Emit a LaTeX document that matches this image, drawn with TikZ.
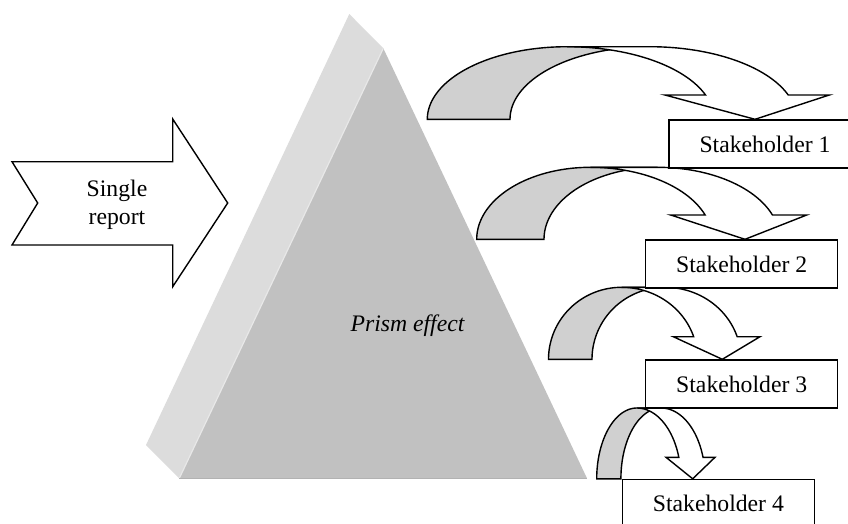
\documentclass[tikz,border=0pt]{standalone}
\usepackage{fontspec}
\setmainfont{Liberation Serif}
\definecolor{backface}{RGB}{220,220,220}
\definecolor{frontface}{RGB}{193,193,193}
\definecolor{edgehi}{RGB}{232,232,232}
\definecolor{edgelo}{RGB}{178,178,178}
\definecolor{bandgray}{RGB}{208,208,208}
\tikzset{
  outline/.style={draw=black,line width=1.4pt},
  shbox/.style={outline,fill=white,rectangle,minimum width=192pt,minimum height=48pt,
    inner sep=0pt,anchor=north west,font=\fontsize{23.7}{28}\selectfont},
  lbl/.style={font=\fontsize{23.7}{28}\selectfont,align=center,inner sep=0pt},
}
% curved down arrow drawn from the parameters \cvC \cvT \cvA \cvB \cvH \cvY \cvWY \cvWL \cvWR \cvTX
\newcommand\cvDrawArrow{%
  \pgfmathsetmacro\cvPhi{asin((\cvY-\cvWY)/\cvH)}%
  \filldraw[outline,fill=bandgray] (\cvC-\cvA,\cvY)
    -- plot[domain=180:90,samples=50] ({\cvC+\cvA*cos(\x)},{\cvY-\cvH*sin(\x)})
    -- plot[domain=90:180,samples=50] ({\cvC+\cvT+\cvA*cos(\x)},{\cvY-\cvH*sin(\x)})
    -- cycle;
  \filldraw[outline,fill=white] (\cvC,\cvY-\cvH)
    -- plot[domain=90:\cvPhi,samples=50] ({\cvC+\cvB*cos(\x)},{\cvY-\cvH*sin(\x)})
    -- (\cvWL,\cvWY) -- (\cvTX,\cvY) -- (\cvWR,\cvWY)
    -- plot[domain=\cvPhi:90,samples=50] ({\cvC+\cvT+\cvB*cos(\x)},{\cvY-\cvH*sin(\x)})
    -- cycle;
}
\begin{document}
\begin{tikzpicture}[x=1pt,y=-1pt]
\useasboundingbox (0,0) rectangle (848,523);
\clip (0,0) rectangle (848,523);
% prism
\fill[backface] (349.3,14) -- (383.3,48.3) -- (179.3,478.3) -- (146,445) -- cycle;
\fill[frontface] (383.3,48.3) -- (179.3,478.3) -- (587,478.3) -- cycle;
\draw[edgehi,line width=1.2pt] (383.3,48.3) -- (179.3,478.3);
\draw[edgelo,line width=1pt] (179.3,478.3) -- (587,478.3);
\node[lbl,font=\fontsize{23.7}{28}\selectfont\itshape] (prism) at (407.5,326) {Prism effect};
% single report arrow
\filldraw[outline,fill=white] (12,161.7) -- (172.7,161.7) -- (172.7,119) -- (227.7,203)
  -- (172.7,286.7) -- (172.7,245) -- (12,245) -- (37.7,203) -- cycle;
\node[lbl] (report) at (117,205) {Single\\report};
% curved arrows
\def\cvC{567}\def\cvT{82.7}\def\cvA{139.7}\def\cvB{147}\def\cvH{72.6}\def\cvY{119.3}
\def\cvWY{95}\def\cvWL{665}\def\cvWR{829.3}\def\cvTX{755}
\cvDrawArrow
\def\cvC{590.3}\def\cvT{67.3}\def\cvA{113.6}\def\cvB{122}\def\cvH{72}\def\cvY{239.3}
\def\cvWY{215}\def\cvWL{670.7}\def\cvWR{806.7}\def\cvTX{745}
\cvDrawArrow
\def\cvC{621.5}\def\cvT{43.5}\def\cvA{73}\def\cvB{76}\def\cvH{72}\def\cvY{359.3}
\def\cvWY{336.7}\def\cvWL{673.3}\def\cvWR{760}\def\cvTX{722.3}
\cvDrawArrow
\def\cvC{636.9}\def\cvT{24.2}\def\cvA{40.2}\def\cvB{44}\def\cvH{70.8}\def\cvY{478.8}
\def\cvWY{457.3}\def\cvWL{666}\def\cvWR{715}\def\cvTX{692.7}
\cvDrawArrow
% stakeholder boxes
\node[shbox] (s1) at (668.3,119.3) {Stakeholder 1};
\node[shbox] (s2) at (645,239.3) {Stakeholder 2};
\node[shbox] (s3) at (645,359.3) {Stakeholder 3};
\node[shbox] (s4) at (621.7,478.8) {Stakeholder 4};
\end{tikzpicture}
\end{document}
